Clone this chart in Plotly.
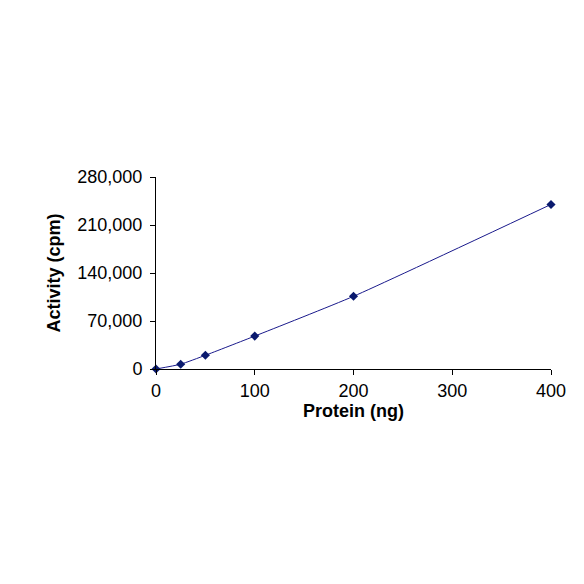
import plotly.graph_objects as go

protein_ng = [0, 25, 50, 100, 200, 400]
activity_cpm = [0, 7000, 20000, 48000, 106000, 240000]

x_ticks = [0, 100, 200, 300, 400]
y_ticks = [0, 70000, 140000, 210000, 280000]
y_tick_labels = ["0", "70,000", "140,000", "210,000", "280,000"]

fig = go.Figure(go.Scatter(
    x=protein_ng, y=activity_cpm, mode="lines+markers",
    line=dict(color="#1a1a8c", width=1, shape="spline", smoothing=0.5),
    marker=dict(symbol="diamond", size=7, color="#0a1a6e"),
    cliponaxis=False,
))

font = "Liberation Sans, Arial, sans-serif"
fig.update_layout(
    width=584, height=584, showlegend=False,
    plot_bgcolor="white", paper_bgcolor="white",
    margin=dict(l=148, r=41, t=169, b=223),
    font=dict(family=font, size=18, color="black"),
)
fig.update_xaxes(
    range=[0, 400], tickvals=x_ticks, showgrid=False, zeroline=False,
    showline=True, linecolor="black", ticks="outside", ticklen=5, tickcolor="black",
    title=dict(text="<b>Protein (ng)</b>", standoff=0, font=dict(size=18)),
)
fig.update_yaxes(
    range=[0, 280000], tickvals=y_ticks, ticktext=y_tick_labels,
    showgrid=False, zeroline=False,
    showline=True, linecolor="black", ticks="outside", ticklen=5, tickcolor="black",
    ticklabelstandoff=4,
    title=dict(text="<b>Activity (cpm)</b>", standoff=12, font=dict(size=18)),
)
fig.write_html("out.html")
